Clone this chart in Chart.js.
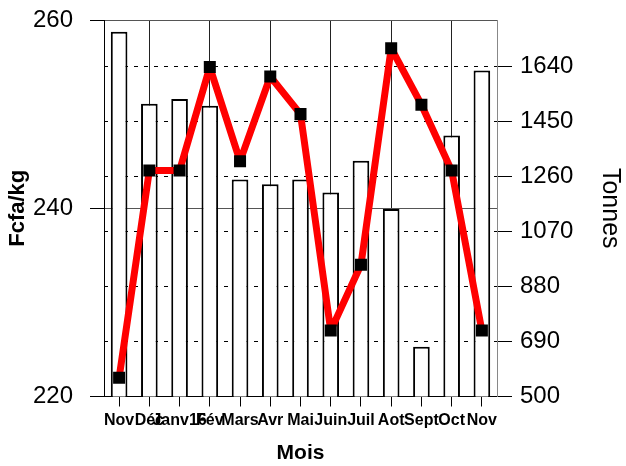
<!DOCTYPE html>
<html>
<head>
<meta charset="utf-8">
<script src="https://cdn.jsdelivr.net/npm/chart.js@4.4.1/dist/chart.umd.min.js"></script>
<style>
  html, body { margin: 0; padding: 0; background: #ffffff; }
  #wrap { width: 626px; height: 466px; }
</style>
</head>
<body>
<div id="wrap"><canvas id="chart" width="626" height="466"></canvas></div>
<script>
// ================= DATA =================
const months = ["Nov", "Déc", "Janv16", "Fév", "Mars", "Avr", "Mai", "Juin", "Juil", "Aot", "Sept", "Oct", "Nov"];
const prixFcfa = [222, 244, 244, 255, 245, 254, 250, 227, 234, 257, 251, 244, 227];
const tonnes = [1759, 1511, 1527, 1504, 1249, 1233, 1249, 1204, 1314, 1147, 672, 1401, 1626];
const prixTicks = [220, 240, 260];
const tonnesTicks = [500, 690, 880, 1070, 1260, 1450, 1640];

const FONT = "'Liberation Sans', Arial, sans-serif";

// fixed box sizes so the plot area lands where the original one is
const fitY = w => axis => {
  axis.width = w;
  axis.paddingTop = 0;
  axis.paddingBottom = 0;
};

// ================= CHART =================
const ctx = document.getElementById("chart").getContext("2d");

new Chart(ctx, {
  type: "bar",
  data: {
    labels: months,
    datasets: [
      {
        type: "line",
        label: "Fcfa/kg",
        data: prixFcfa,
        yAxisID: "y",
        order: 1,
        borderColor: "#ff0000",
        borderWidth: 7,
        borderJoinStyle: "round",
        tension: 0,
        fill: false,
        pointStyle: "rect",
        pointRadius: 8.5,
        pointBorderWidth: 0,
        pointBackgroundColor: "#000000",
        pointBorderColor: "#000000"
      },
      {
        type: "bar",
        label: "Tonnes",
        data: tonnes,
        yAxisID: "y1",
        order: 2,
        backgroundColor: "#ffffff",
        borderColor: "#000000",
        borderWidth: 2,
        borderSkipped: false,
        categoryPercentage: 1,
        barPercentage: 0.55
      }
    ]
  },
  options: {
    responsive: false,
    animation: false,
    layout: { padding: { top: 20, left: 0, right: 0, bottom: 0 } },
    plugins: {
      legend: { display: false },
      tooltip: { enabled: false }
    },
    scales: {
      x: {
        offset: true,
        grid: {
          offset: false,
          drawOnChartArea: true,
          color: c => (c.index % 2 === 1 ? "#222222" : "rgba(0,0,0,0)"),
          tickColor: "#000000",
          tickLength: 10
        },
        border: { color: "#000000", width: 1 },
        ticks: {
          color: "#000000",
          font: { family: FONT, size: 16, weight: "bold" },
          maxRotation: 0,
          autoSkip: false,
          padding: 4
        },
        title: {
          display: true,
          text: "Mois",
          color: "#000000",
          font: { family: FONT, size: 21, weight: "bold" },
          padding: { top: 0, bottom: 0 }
        },
        afterFit: axis => {
          axis.height = 69.5;
          axis.paddingLeft = 0;
          axis.paddingRight = 0;
        }
      },
      y: {
        position: "left",
        min: 220,
        max: 260,
        afterBuildTicks: axis => { axis.ticks = prixTicks.map(v => ({ value: v })); },
        grid: {
          color: "#555555",
          tickColor: "#000000",
          tickLength: 14
        },
        border: { color: "#000000", width: 1 },
        ticks: {
          color: "#000000",
          font: { family: FONT, size: 24 },
          padding: 17
        },
        title: {
          display: true,
          text: "Fcfa/kg",
          color: "#000000",
          font: { family: FONT, size: 22, weight: "bold" },
          padding: { top: 5, bottom: 0 }
        },
        afterFit: fitY(104)
      },
      y1: {
        position: "right",
        min: 500,
        max: 1800,
        afterBuildTicks: axis => { axis.ticks = tonnesTicks.map(v => ({ value: v })); },
        grid: {
          drawOnChartArea: true,
          color: c => (c.tick && c.tick.value === 500 ? "rgba(0,0,0,0)" : "#000000"),
          tickColor: "#000000",
          tickBorderDash: [],
          tickLength: 15
        },
        border: { color: "#888888", width: 1, dash: [4, 6] },
        ticks: {
          color: "#000000",
          font: { family: FONT, size: 24 },
          padding: 8,
          callback: v => String(v)
        },
        title: {
          display: true,
          text: "Tonnes",
          color: "#000000",
          font: { family: FONT, size: 25 },
          padding: { top: 1, bottom: 0 }
        },
        afterFit: fitY(129)
      }
    }
  }
});
</script>
</body>
</html>
